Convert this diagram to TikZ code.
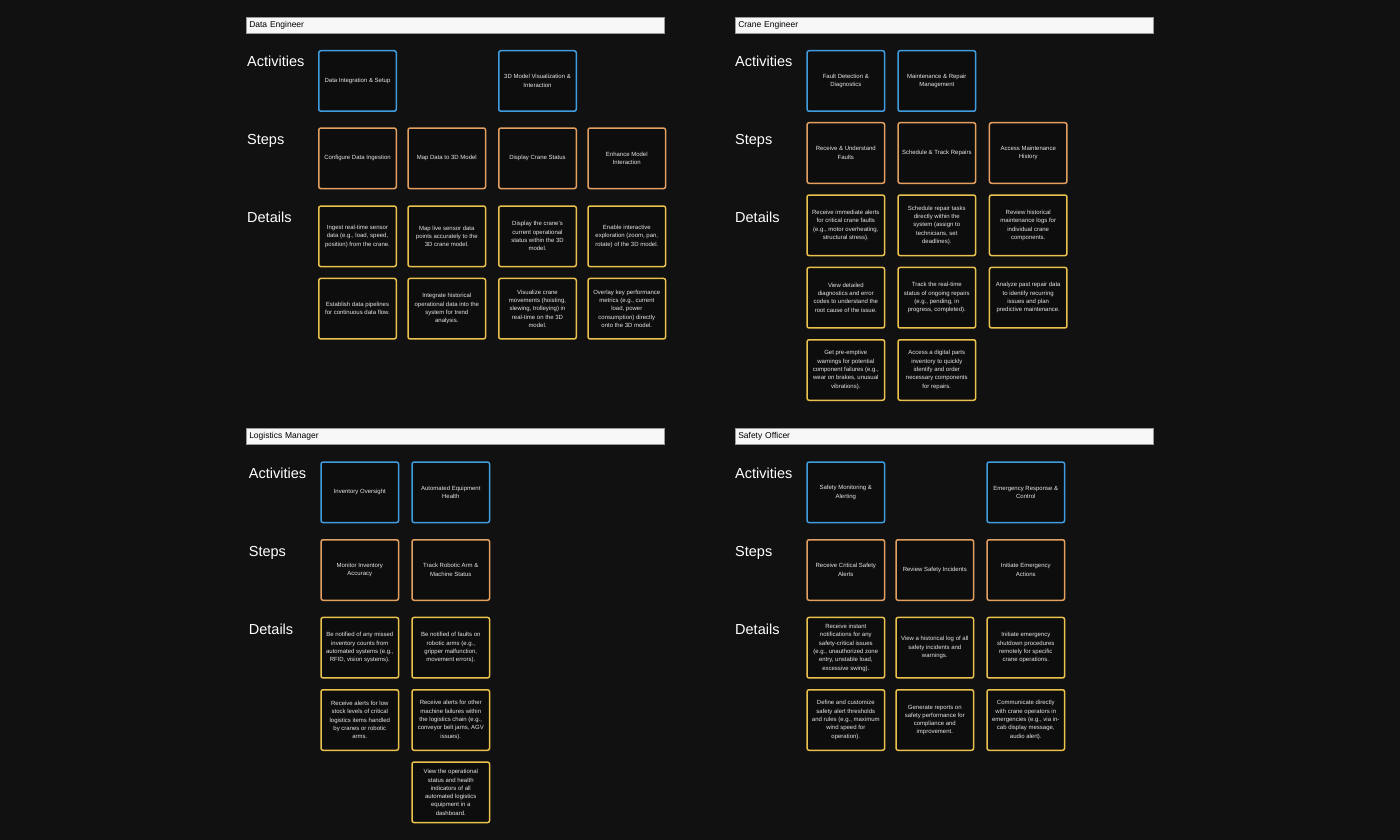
\documentclass[tikz,border=0pt]{standalone}
\usepackage{fontspec}
\setmainfont{Liberation Sans}
\definecolor{bg}{HTML}{111111}
\definecolor{boxfill}{HTML}{0D0D0D}
\definecolor{boxtext}{HTML}{E6E6E6}
\definecolor{actblue}{HTML}{3F9DE0}
\definecolor{steporange}{HTML}{E3A060}
\definecolor{detyellow}{HTML}{EBC24C}
\definecolor{hdrfill}{HTML}{F7F7F7}
\definecolor{hdrline}{HTML}{9A9A9A}
\tikzset{
  basebox/.style={draw, line width=1.5pt, rounded corners=2pt, fill=boxfill,
    minimum width=77.5pt, minimum height=60.5pt, inner sep=1pt, align=center,
    text=boxtext, font=\fontsize{6}{8.3}\selectfont, anchor=north west},
  actbox/.style={basebox, draw=actblue},
  stepbox/.style={basebox, draw=steporange},
  detbox/.style={basebox, draw=detyellow},
  hdr/.style={draw=hdrline, line width=0.5pt, fill=hdrfill, anchor=north west,
    minimum height=16pt, inner xsep=3pt, inner ysep=0pt, text width=412pt, align=left,
    text=black, font=\fontsize{8.5}{10}\selectfont},
  rowlabel/.style={anchor=base west, inner sep=0pt, text=white, font=\fontsize{14.5}{16}\selectfont}
}
\begin{document}
\begin{tikzpicture}[x=1pt,y=-1pt]
\useasboundingbox (0,0) rectangle (1400,840);
\fill[bg] (0,0) rectangle (1400,840);

% ---------------- Data Engineer ----------------
\node[hdr] (deh) at (246,17) {Data Engineer};
\node[rowlabel] (dela) at (247,66.7) {Activities};
\node[rowlabel] (dels) at (247,145) {Steps};
\node[rowlabel] (deld) at (247,222.3) {Details};
\node[actbox] (dea1) at (318,50) {Data Integration \& Setup};
\node[actbox] (dea2) at (498,50) {3D Model Visualization \&\\Interaction};
\node[stepbox] (des1) at (318,127.3) {Configure Data Ingestion};
\node[stepbox] (des2) at (407.3,127.3) {Map Data to 3D Model};
\node[stepbox] (des3) at (498,127.3) {Display Crane Status};
\node[stepbox] (des4) at (587.3,127.3) {Enhance Model\\Interaction};
\node[detbox] (ded11) at (318,205.3) {Ingest real-time sensor\\data (e.g., load, speed,\\position) from the crane.};
\node[detbox] (ded12) at (407.3,205.3) {Map live sensor data\\points accurately to the\\3D crane model.};
\node[detbox] (ded13) at (498,205.3) {Display the crane's\\current operational\\status within the 3D\\model.};
\node[detbox] (ded14) at (587.3,205.3) {Enable interactive\\exploration (zoom, pan,\\rotate) of the 3D model.};
\node[detbox] (ded21) at (318,277.7) {Establish data pipelines\\for continuous data flow.};
\node[detbox] (ded22) at (407.3,277.7) {Integrate historical\\operational data into the\\system for trend\\analysis.};
\node[detbox] (ded23) at (498,277.7) {Visualize crane\\movements (hoisting,\\slewing, trolleying) in\\real-time on the 3D\\model.};
\node[detbox] (ded24) at (587.3,277.7) {Overlay key performance\\metrics (e.g., current\\load, power\\consumption) directly\\onto the 3D model.};

% ---------------- Crane Engineer ----------------
\node[hdr] (ceh) at (735,17) {Crane Engineer};
\node[rowlabel] (cela) at (735,66.7) {Activities};
\node[rowlabel] (cels) at (735,145) {Steps};
\node[rowlabel] (celd) at (735,222.3) {Details};
\node[actbox] (cea1) at (806.3,50) {Fault Detection \&\\Diagnostics};
\node[actbox] (cea2) at (897.3,50) {Maintenance \& Repair\\Management};
\node[stepbox] (ces1) at (806.3,122) {Receive \& Understand\\Faults};
\node[stepbox] (ces2) at (897.3,122) {Schedule \& Track Repairs};
\node[stepbox] (ces3) at (988.7,122) {Access Maintenance\\History};
\node[detbox] (ced11) at (806.3,194.3) {Receive immediate alerts\\for critical crane faults\\(e.g., motor overheating,\\structural stress).};
\node[detbox] (ced12) at (897.3,194.3) {Schedule repair tasks\\directly within the\\system (assign to\\technicians, set\\deadlines).};
\node[detbox] (ced13) at (988.7,194.3) {Review historical\\maintenance logs for\\individual crane\\components.};
\node[detbox] (ced21) at (806.3,266.7) {View detailed\\diagnostics and error\\codes to understand the\\root cause of the issue.};
\node[detbox] (ced22) at (897.3,266.7) {Track the real-time\\status of ongoing repairs\\(e.g., pending, in\\progress, completed).};
\node[detbox] (ced23) at (988.7,266.7) {Analyze past repair data\\to identify recurring\\issues and plan\\predictive maintenance.};
\node[detbox] (ced31) at (806.3,339) {Get pre-emptive\\warnings for potential\\component failures (e.g.,\\wear on brakes, unusual\\vibrations).};
\node[detbox] (ced32) at (897.3,339) {Access a digital parts\\inventory to quickly\\identify and order\\necessary components\\for repairs.};

% ---------------- Logistics Manager ----------------
\node[hdr] (lmh) at (246,428.3) {Logistics Manager};
\node[rowlabel] (lmla) at (248.7,478.3) {Activities};
\node[rowlabel] (lmls) at (248.7,556.7) {Steps};
\node[rowlabel] (lmld) at (248.7,634) {Details};
\node[actbox] (lma1) at (320.3,461.3) {Inventory Oversight};
\node[actbox] (lma2) at (411.3,461.3) {Automated Equipment\\Health};
\node[stepbox] (lms1) at (320.3,539) {Monitor Inventory\\Accuracy};
\node[stepbox] (lms2) at (411.3,539) {Track Robotic Arm \&\\Machine Status};
\node[detbox] (lmd11) at (320.3,616.7) {Be notified of any missed\\inventory counts from\\automated systems (e.g.,\\RFID, vision systems).};
\node[detbox] (lmd12) at (411.3,616.7) {Be notified of faults on\\robotic arms (e.g.,\\gripper malfunction,\\movement errors).};
\node[detbox] (lmd21) at (320.3,689) {Receive alerts for low\\stock levels of critical\\logistics items handled\\by cranes or robotic\\arms.};
\node[detbox] (lmd22) at (411.3,689) {Receive alerts for other\\machine failures within\\the logistics chain (e.g.,\\conveyor belt jams, AGV\\issues).};
\node[detbox] (lmd32) at (411.3,761.3) {View the operational\\status and health\\indicators of all\\automated logistics\\equipment in a\\dashboard.};

% ---------------- Safety Officer ----------------
\node[hdr] (soh) at (735,428.3) {Safety Officer};
\node[rowlabel] (sola) at (735,478.3) {Activities};
\node[rowlabel] (sols) at (735,556.7) {Steps};
\node[rowlabel] (sold) at (735,634) {Details};
\node[actbox] (soa1) at (806.3,461.3) {Safety Monitoring \&\\Alerting};
\node[actbox] (soa2) at (986.3,461.3) {Emergency Response \&\\Control};
\node[stepbox] (sos1) at (806.3,539) {Receive Critical Safety\\Alerts};
\node[stepbox] (sos2) at (895.3,539) {Review Safety Incidents};
\node[stepbox] (sos3) at (986.3,539) {Initiate Emergency\\Actions};
\node[detbox] (sod11) at (806.3,616.7) {Receive instant\\notifications for any\\safety-critical issues\\(e.g., unauthorized zone\\entry, unstable load,\\excessive swing).};
\node[detbox] (sod12) at (895.3,616.7) {View a historical log of all\\safety incidents and\\warnings.};
\node[detbox] (sod13) at (986.3,616.7) {Initiate emergency\\shutdown procedures\\remotely for specific\\crane operations.};
\node[detbox] (sod21) at (806.3,689) {Define and customize\\safety alert thresholds\\and rules (e.g., maximum\\wind speed for\\operation).};
\node[detbox] (sod22) at (895.3,689) {Generate reports on\\safety performance for\\compliance and\\improvement.};
\node[detbox] (sod23) at (986.3,689) {Communicate directly\\with crane operators in\\emergencies (e.g., via in-\\cab display message,\\audio alert).};
\end{tikzpicture}
\end{document}
